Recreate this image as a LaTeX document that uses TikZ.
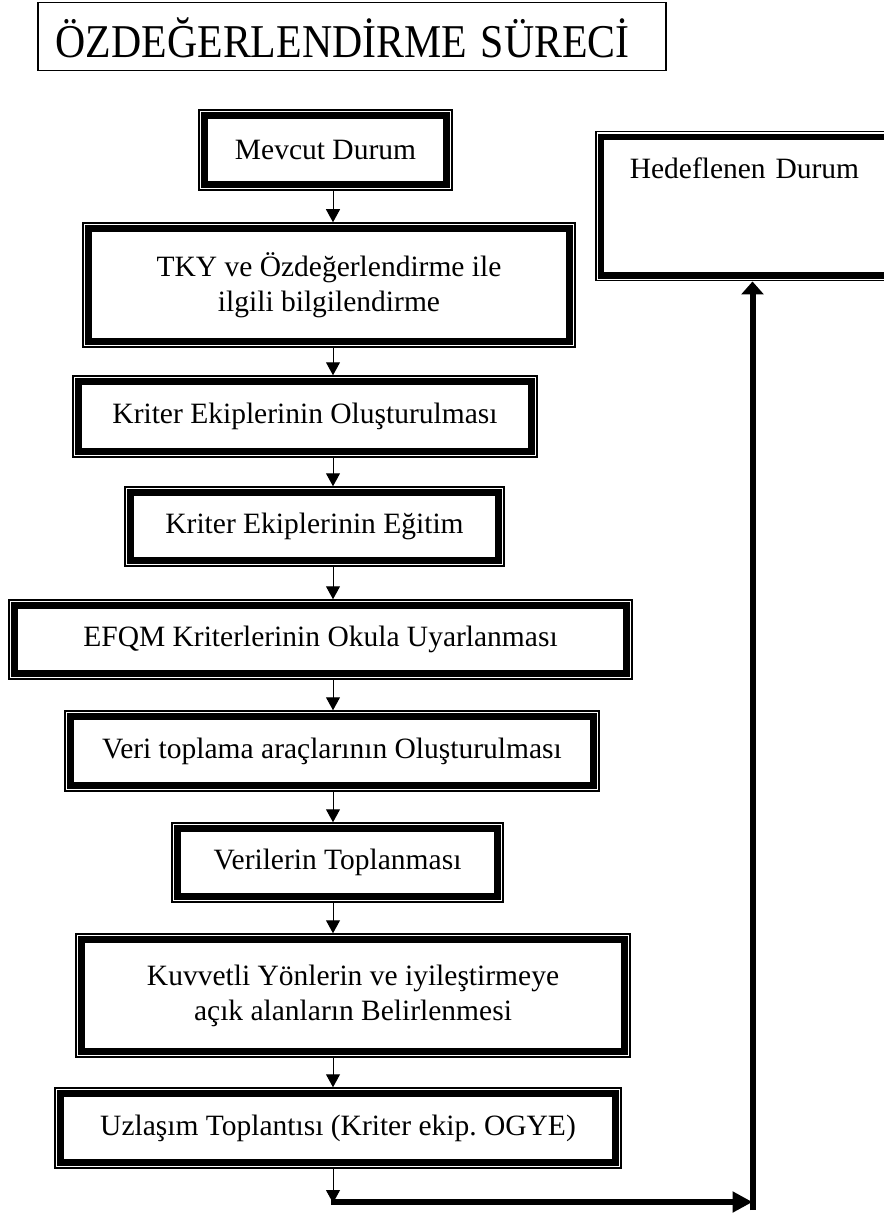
\documentclass[tikz,border=0pt]{standalone}
\usepackage{fontspec}
\setmainfont{Liberation Serif}
\newfontfamily\tnr{Liberation Serif}
\usetikzlibrary{arrows.meta}
\frenchspacing
\begin{document}
\begin{tikzpicture}[x=1pt,y=-1pt,
  box/.style={draw, line width=1.5pt, inner sep=0pt, align=center,
    font=\tnr\fontsize{29.5}{35}\selectfont},
  frame/.style={line width=6.5pt},
  titlebox/.style={draw, line width=1.5pt, anchor=north west, inner ysep=0pt,
    inner xsep=18pt, text width=592pt, align=left, text height=55pt, text depth=13pt,
    font=\tnr\fontsize{47}{50}\selectfont},
  arr/.style={line width=1pt, -{Triangle[length=13pt,width=14pt]}},
  bigarr/.style={line width=6pt, -{Triangle[length=20pt,width=20pt]}},
  uparr/.style={line width=6pt, -{Triangle[length=13pt,width=22pt]}},
]
\useasboundingbox[fill=white] (0,0) rectangle (883,1214);

\node[titlebox] (title) at (37,2) {\scalebox{0.89}[1]{ÖZDEĞERLENDİRME SÜRECİ}};

\node[box, minimum width=253pt, minimum height=80pt] (mev) at (325.5,150) {Mevcut Durum};
\node[box, minimum width=492pt, minimum height=124pt] (tky) at (329,285) {TKY ve Özdeğerlendirme ile\\ilgili bilgilendirme};
\node[box, minimum width=464pt, minimum height=81pt] (olus) at (305,416.5) {Kriter Ekiplerinin Oluşturulması};
\node[box, minimum width=379pt, minimum height=79pt] (egit) at (314.5,526.5) {Kriter Ekiplerinin Eğitim};
\node[box, minimum width=623pt, minimum height=79pt] (efqm) at (320.5,639.5) {EFQM Kriterlerinin Okula Uyarlanması};
\node[box, minimum width=534pt, minimum height=80pt] (veri) at (332,751) {Veri toplama araçlarının Oluşturulması};
\node[box, minimum width=331pt, minimum height=79pt] (vtop) at (337.5,862.5) {Verilerin Toplanması};
\node[box, minimum width=554pt, minimum height=123pt] (kuv) at (353,995.5) {Kuvvetli Yönlerin ve iyileştirmeye\\açık alanların Belirlenmesi};
\node[box, minimum width=566pt, minimum height=80pt] (uz) at (338,1128) {Uzlaşım Toplantısı (Kriter ekip. OGYE)};
\node[box, anchor=north west, inner xsep=34pt, text width=276pt, align=left,
  text height=47pt, text depth=102pt] (hed) at (595,131) {Hedeflenen Durum};

\foreach \n in {mev,tky,olus,egit,efqm,veri,vtop,kuv,uz,hed}
  \draw[frame] ([shift={(6.2pt,6.2pt)}]\n.south west) rectangle ([shift={(-6.2pt,-6.2pt)}]\n.north east);

\coordinate (ax) at (333,0);
\draw[arr] (mev.south -| ax) -- (tky.north -| ax);
\draw[arr] (tky.south -| ax) -- (olus.north -| ax);
\draw[arr] (olus.south -| ax) -- (egit.north -| ax);
\draw[arr] (egit.south -| ax) -- (efqm.north -| ax);
\draw[arr] (efqm.south -| ax) -- (veri.north -| ax);
\draw[arr] (veri.south -| ax) -- (vtop.north -| ax);
\draw[arr] (vtop.south -| ax) -- (kuv.north -| ax);
\draw[arr] (kuv.south -| ax) -- (uz.north -| ax);

\coordinate (c1) at (333,1203);
\coordinate (c0) at (331,1202);
\coordinate (c2) at (752.5,1202);
\coordinate (c3) at (752.5,1210);
\draw[arr] (uz.south -| ax) -- (c1);
\draw[bigarr] (c0) -- (c2);
\draw[uparr] (c3) -- (hed.south -| c3);
\end{tikzpicture}
\end{document}
